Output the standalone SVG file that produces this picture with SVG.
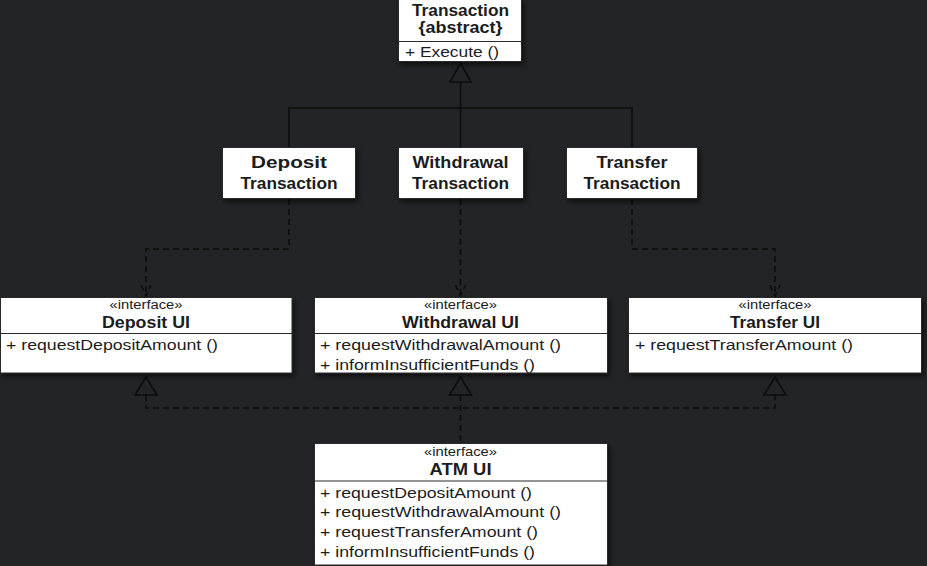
<svg xmlns="http://www.w3.org/2000/svg" width="927" height="566" viewBox="0 0 927 566">
<defs>
<filter id="sh" x="-10%" y="-10%" width="130%" height="140%">
<feDropShadow dx="2" dy="3" stdDeviation="2.5" flood-color="#000" flood-opacity="0.6"/>
</filter>
<style>
.box{fill:#fff;stroke:#2a2a2a;stroke-width:1;filter:url(#sh)}
.div{stroke:#2a2a2a;stroke-width:1.2;fill:none}
.t{font-family:"Liberation Sans",Arial,sans-serif;fill:#1c1c1c}
.b{font-weight:bold;font-size:16.5px;text-anchor:middle}
.m{font-size:15.5px}
.s{font-size:12.5px;text-anchor:middle}
.solid{stroke:#0d0d0d;stroke-width:1.6;fill:none}
.dash{stroke:#0d0d0d;stroke-width:1.6;fill:none;stroke-dasharray:6 4}
.tri{fill:none;stroke:#0d0d0d;stroke-width:1.6}
</style>
</defs>
<rect width="927" height="566" fill="#232427"/>
<g id="connectors">
<polyline class="solid" points="289,147 289,108 632,108 632,147"/>
<line class="solid" x1="460.5" y1="82" x2="460.5" y2="147"/>
<polygon class="tri" points="460.5,63 450,82 471,82"/>
<polyline class="dash" points="289,199 289,249 146,249 146,296"/>
<polyline class="dash" points="141,285 146,296 151,285"/>
<line class="dash" x1="460.5" y1="199" x2="460.5" y2="296"/>
<polyline class="dash" points="455.5,285 460.5,296 465.5,285"/>
<polyline class="dash" points="632,199 632,249 775,249 775,296"/>
<polyline class="dash" points="770,285 775,296 780,285"/>
<polyline class="dash" points="146,395 146,408 775,408 775,395"/>
<line class="dash" x1="460.5" y1="395" x2="460.5" y2="443"/>
<polygon class="tri" points="146,377 135,395 157,395"/>
<polygon class="tri" points="460.5,377 449.5,395 471.5,395"/>
<polygon class="tri" points="775,377 764,395 786,395"/>
</g>
<g id="transaction">
<rect class="box" x="398.5" y="-0.5" width="123" height="62"/>
<line class="div" x1="398.5" y1="41.5" x2="521.5" y2="41.5"/>
<text class="t b" x="460.5" y="16" textLength="97" lengthAdjust="spacingAndGlyphs">Transaction</text>
<text class="t b" x="460.5" y="32.5" textLength="84" lengthAdjust="spacingAndGlyphs">{abstract}</text>
<text class="t m" x="405" y="56.5" textLength="94" lengthAdjust="spacingAndGlyphs">+ Execute ()</text>
</g>
<g id="deposit-transaction">
<rect class="box" x="222.5" y="147.5" width="133" height="51"/>
<text class="t b" x="289" y="167.5" textLength="76" lengthAdjust="spacingAndGlyphs">Deposit</text>
<text class="t b" x="289" y="188.5" textLength="97" lengthAdjust="spacingAndGlyphs">Transaction</text>
</g>
<g id="withdrawal-transaction">
<rect class="box" x="398.5" y="147.5" width="125" height="51"/>
<text class="t b" x="460.5" y="167.5" textLength="96" lengthAdjust="spacingAndGlyphs">Withdrawal</text>
<text class="t b" x="460.5" y="188.5" textLength="97" lengthAdjust="spacingAndGlyphs">Transaction</text>
</g>
<g id="transfer-transaction">
<rect class="box" x="566.5" y="147.5" width="131" height="51"/>
<text class="t b" x="632" y="167.5" textLength="71" lengthAdjust="spacingAndGlyphs">Transfer</text>
<text class="t b" x="632" y="188.5" textLength="97" lengthAdjust="spacingAndGlyphs">Transaction</text>
</g>
<g id="deposit-ui">
<rect class="box" x="0.5" y="297.5" width="291.5" height="75.5"/>
<line class="div" x1="0.5" y1="333.5" x2="292" y2="333.5"/>
<text class="t s" x="146" y="309" textLength="73" lengthAdjust="spacingAndGlyphs">«interface»</text>
<text class="t b" x="146" y="327.7" textLength="88" lengthAdjust="spacingAndGlyphs">Deposit UI</text>
<text class="t m" x="6" y="350" textLength="212" lengthAdjust="spacingAndGlyphs">+ requestDepositAmount ()</text>
</g>
<g id="withdrawal-ui">
<rect class="box" x="314.5" y="297.5" width="293" height="75.5"/>
<line class="div" x1="314.5" y1="333.5" x2="607.5" y2="333.5"/>
<text class="t s" x="460.5" y="309" textLength="73" lengthAdjust="spacingAndGlyphs">«interface»</text>
<text class="t b" x="460.5" y="327.7" textLength="117" lengthAdjust="spacingAndGlyphs">Withdrawal UI</text>
<text class="t m" x="320" y="349.5" textLength="241" lengthAdjust="spacingAndGlyphs">+ requestWithdrawalAmount ()</text>
<text class="t m" x="320" y="370" textLength="215" lengthAdjust="spacingAndGlyphs">+ informInsufficientFunds ()</text>
</g>
<g id="transfer-ui">
<rect class="box" x="628.5" y="297.5" width="293" height="75.5"/>
<line class="div" x1="628.5" y1="333.5" x2="921.5" y2="333.5"/>
<text class="t s" x="775" y="309" textLength="73" lengthAdjust="spacingAndGlyphs">«interface»</text>
<text class="t b" x="775" y="327.7" textLength="90" lengthAdjust="spacingAndGlyphs">Transfer UI</text>
<text class="t m" x="635" y="350" textLength="218" lengthAdjust="spacingAndGlyphs">+ requestTransferAmount ()</text>
</g>
<g id="atm-ui">
<rect class="box" x="314.5" y="443.5" width="293" height="121.5"/>
<line class="div" x1="314.5" y1="481" x2="607.5" y2="481"/>
<text class="t s" x="460.5" y="455.5" textLength="73" lengthAdjust="spacingAndGlyphs">«interface»</text>
<text class="t b" x="460.5" y="474.7" textLength="62" lengthAdjust="spacingAndGlyphs">ATM UI</text>
<text class="t m" x="320" y="497.5" textLength="212" lengthAdjust="spacingAndGlyphs">+ requestDepositAmount ()</text>
<text class="t m" x="320" y="517.3" textLength="241" lengthAdjust="spacingAndGlyphs">+ requestWithdrawalAmount ()</text>
<text class="t m" x="320" y="537" textLength="218" lengthAdjust="spacingAndGlyphs">+ requestTransferAmount ()</text>
<text class="t m" x="320" y="557" textLength="215" lengthAdjust="spacingAndGlyphs">+ informInsufficientFunds ()</text>
</g>
</svg>
